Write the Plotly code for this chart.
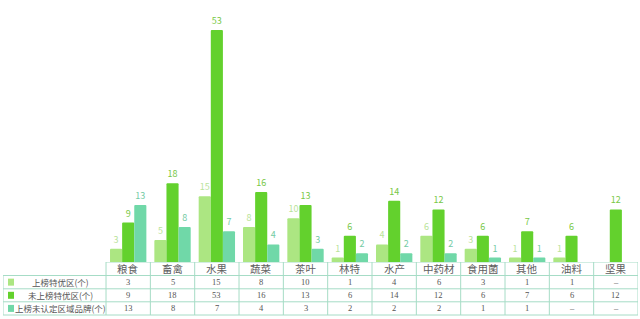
import plotly.graph_objects as go

# Categories and series (None = no data, shown as "–")
categories = ["粮食", "畜禽", "水果", "蔬菜", "茶叶", "林特", "水产", "中药材", "食用菌", "其他", "油料", "坚果"]
series_names = ["上榜特优区(个)", "未上榜特优区(个)", "上榜未认定区域品牌(个)"]
listed = [3, 5, 15, 8, 10, 1, 4, 6, 3, 1, 1, None]
unlisted = [9, 18, 53, 16, 13, 6, 14, 12, 6, 7, 6, 12]
brands = [13, 8, 7, 4, 3, 2, 2, 2, 1, 1, None, None]

series_values = [listed, unlisted, brands]
bar_colors = ["#ace682", "#63d12d", "#70d8a8"]
label_colors = ["#b9e39a", "#78c846", "#74cba4"]

W, H = 640, 319
base_px = 262          # pixel row of the value axis baseline
row_px = [262, 275.5, 288.8, 301.8, 315]   # table row boundaries (pixels)
left_cols = 2.324      # width of the legend column, in category units
x0 = -0.5 - left_cols
x1 = len(categories) - 0.5
grid = "#a6dcc6"

fig = go.Figure()
for name, vals, c, lc in zip(series_names, series_values, bar_colors, label_colors):
    fig.add_trace(go.Bar(
        x=list(range(len(categories))), y=vals, name=name,
        marker=dict(color=c, line=dict(width=0), cornerradius=1),
        text=[("" if v is None else str(v)) for v in vals],
        textposition="outside", cliponaxis=False,
        textfont=dict(color=lc, size=9, family="Noto Sans CJK SC"),
        showlegend=False,
    ))

shapes = []
# Table grid lines
shapes.append(dict(type="line", xref="x", yref="y2", x0=-0.5, x1=x1, y0=row_px[0], y1=row_px[0],
                   line=dict(color=grid, width=1)))
for r in row_px[1:]:
    shapes.append(dict(type="line", xref="x", yref="y2", x0=x0, x1=x1, y0=r, y1=r,
                       line=dict(color=grid, width=1)))
shapes.append(dict(type="line", xref="x", yref="y2", x0=x0, x1=x0, y0=row_px[1], y1=row_px[-1],
                   line=dict(color=grid, width=1)))
for k in range(len(categories) + 1):
    xv = k - 0.5
    shapes.append(dict(type="line", xref="x", yref="y2", x0=xv, x1=xv, y0=row_px[0], y1=row_px[-1],
                       line=dict(color=grid, width=1)))

annotations = []
# Header row: category names
hy = (row_px[0] + row_px[1]) / 2
for i, cat in enumerate(categories):
    annotations.append(dict(x=i, y=hy, xref="x", yref="y2", text=cat, showarrow=False,
                            font=dict(size=10.5, color="#606060", family="Noto Sans CJK SC")))
# Data rows with legend keys
px_unit = (W - 3 - 2) / (x1 - x0)
for r, (name, vals, c) in enumerate(zip(series_names, series_values, bar_colors)):
    cy = (row_px[r + 1] + row_px[r + 2]) / 2
    kx = x0 + 5 / px_unit
    shapes.append(dict(type="rect", xref="x", yref="y2", x0=kx, x1=kx + 6 / px_unit,
                       y0=cy - 3.5, y1=cy + 3.5, fillcolor=c, line=dict(width=0)))
    annotations.append(dict(x=x0 + 57 / px_unit, y=cy, xref="x", yref="y2", text=name, showarrow=False,
                            font=dict(size=8.5, color="#555555", family="Noto Sans CJK SC")))
    for i, v in enumerate(vals):
        annotations.append(dict(x=i, y=cy, xref="x", yref="y2",
                                text="–" if v is None else str(v), showarrow=False,
                                font=dict(size=8.5, color="#555555", family="Liberation Serif")))

px_per_val = (262 - 30) / 53
fig.update_layout(
    width=W, height=H,
    margin=dict(l=3, r=2, t=0, b=0),
    paper_bgcolor="white", plot_bgcolor="white",
    barmode="group", bargap=0.18, bargroupgap=0,
    xaxis=dict(range=[x0, x1], showticklabels=False, showgrid=False, zeroline=False,
               showline=False, ticks=""),
    yaxis=dict(domain=[(H - base_px) / H, 1], range=[0, base_px / px_per_val],
               showticklabels=False, showgrid=False, zeroline=False, showline=False),
    yaxis2=dict(domain=[0, (H - base_px) / H], range=[H, base_px], anchor="x",
                showticklabels=False, showgrid=False, zeroline=False, showline=False),
    shapes=shapes, annotations=annotations,
    font=dict(family="Noto Sans CJK SC"),
)

fig.write_html("out.html")
